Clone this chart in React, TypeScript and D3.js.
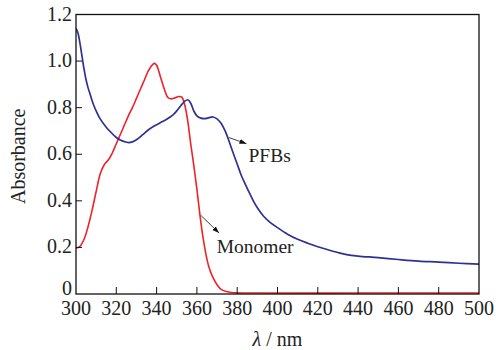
import React from "react";
import * as d3 from "d3";

const pfbWavelengths = [300, 301, 302, 303, 304, 305, 306, 307, 308, 309, 310, 312, 315, 317, 320, 322, 324, 326, 328, 330, 333, 336, 339, 342, 345, 348, 350, 352, 354, 355.5, 357, 358.5, 360, 362, 364, 366, 368, 370, 372, 374, 376, 378, 380, 382, 384, 386, 388, 390, 393, 396, 400, 405, 410, 415, 420, 425, 430, 435, 440, 450, 460, 470, 480, 490, 500];
const pfbValues = [1.14, 1.12, 1.075, 1.02, 0.965, 0.92, 0.885, 0.858, 0.83, 0.806, 0.786, 0.752, 0.716, 0.697, 0.672, 0.661, 0.654, 0.65, 0.653, 0.662, 0.683, 0.705, 0.722, 0.736, 0.75, 0.768, 0.786, 0.808, 0.828, 0.834, 0.818, 0.785, 0.765, 0.755, 0.753, 0.757, 0.76, 0.752, 0.733, 0.7, 0.655, 0.605, 0.558, 0.51, 0.472, 0.435, 0.4, 0.37, 0.335, 0.31, 0.285, 0.257, 0.235, 0.218, 0.203, 0.19, 0.178, 0.168, 0.163, 0.156, 0.148, 0.141, 0.137, 0.132, 0.128];

const monoWavelengths = [300, 302, 304, 306, 308, 310, 312, 314, 316, 318, 320, 322, 324, 326, 328, 330, 332, 334, 336, 338, 339, 340, 342, 344, 345.5, 347, 349, 351, 352.5, 354, 355.5, 357, 358.5, 360, 361.5, 363, 364.5, 366, 368, 370, 372, 375, 380, 390, 440, 500];
const monoValues = [0.196, 0.205, 0.235, 0.29, 0.36, 0.44, 0.515, 0.555, 0.575, 0.605, 0.645, 0.685, 0.725, 0.765, 0.8, 0.84, 0.88, 0.92, 0.96, 0.985, 0.99, 0.982, 0.93, 0.875, 0.845, 0.838, 0.842, 0.848, 0.845, 0.81, 0.74, 0.64, 0.55, 0.45, 0.34, 0.245, 0.17, 0.115, 0.07, 0.04, 0.02, 0.01, 0.005, 0.004, 0.004, 0.004];

const xTicks = [300, 320, 340, 360, 380, 400, 420, 440, 460, 480, 500];
const yTicks = [0, 0.2, 0.4, 0.6, 0.8, 1.0, 1.2];
const yTickLabels = ["0", "0.2", "0.4", "0.6", "0.8", "1.0", "1.2"];

// annotations: arrow start, arrow end, text position (wavelength, absorbance)
const pfbNote = { label: "PFBs", from: [375.8, 0.672], to: [384.6, 0.645], text: [385.6, 0.566] };
const monoNote = { label: "Monomer", from: [361.9, 0.338], to: [371, 0.262], text: [369.8, 0.175] };

const W = 496, H = 350;
const L = 76, R = 479, T = 14.5, B = 294;

export default function App() {
  const x = d3.scaleLinear().domain([300, 500]).range([L, R]);
  const y = d3.scaleLinear().domain([0, 1.2]).range([B, T]);
  const line = d3.line<[number, number]>().x(d => x(d[0])).y(d => y(d[1])).curve(d3.curveCatmullRom.alpha(0.5));
  const pfb = pfbWavelengths.map((w, i) => [w, pfbValues[i]] as [number, number]);
  const mono = monoWavelengths.map((w, i) => [w, monoValues[i]] as [number, number]);
  const font = '"Liberation Serif", "DejaVu Serif", serif';
  const notes = [pfbNote, monoNote];
  return (
    <svg width={W} height={H} style={{ position: "absolute", left: 0, top: 0, fontFamily: font }}>
      <defs>
        <marker id="arr" viewBox="0 0 10 10" refX="10" refY="5" markerWidth="7" markerHeight="7" orient="auto" markerUnits="userSpaceOnUse">
          <path d="M0,1.5 L10,5 L0,8.5 Z" fill="#111" />
        </marker>
        <clipPath id="clip"><rect x={L} y={T} width={R - L} height={B - T} /></clipPath>
      </defs>
      <rect width={W} height={H} fill="#fff" />
      <g clipPath="url(#clip)">
        <path d={line(mono) || ""} fill="none" stroke="#ee2229" strokeWidth={1.6} />
        <path d={line(pfb) || ""} fill="none" stroke="#2e3192" strokeWidth={1.7} />
      </g>
      <rect x={L} y={T} width={R - L} height={B - T} fill="none" stroke="#111" strokeWidth={1.3} />
      {xTicks.map(t => (
        <g key={"x" + t}>
          {t > 300 && t < 500 && <line x1={x(t)} x2={x(t)} y1={B} y2={B - 7} stroke="#111" strokeWidth={1} />}
          <text x={x(t)} y={B + 21} fontSize={20} textAnchor="middle" fill="#222" style={{ fontFamily: font }}>{t}</text>
        </g>
      ))}
      {yTicks.map((t, i) => (
        <g key={"y" + t}>
          {t > 0 && t < 1.2 && <line x1={L} x2={L + 6} y1={y(t)} y2={y(t)} stroke="#111" strokeWidth={1} />}
          <text x={L - 4} y={y(t) + (t === 0 ? 1 : 6)} fontSize={20} textAnchor="end" fill="#222" style={{ fontFamily: font }}>{yTickLabels[i]}</text>
        </g>
      ))}
      <text transform={`translate(25,${(T + B) / 2 + 2}) rotate(-90)`} fontSize={20} textAnchor="middle" fill="#222" style={{ fontFamily: font }}>Absorbance</text>
      <text x={(L + R) / 2} y={346} fontSize={20} textAnchor="middle" fill="#222" style={{ fontFamily: font }}>
        <tspan fontStyle="italic">λ</tspan> / nm
      </text>
      {notes.map(n => (
        <g key={n.label}>
          <line x1={x(n.from[0])} y1={y(n.from[1])} x2={x(n.to[0])} y2={y(n.to[1])} stroke="#111" strokeWidth={0.8} markerEnd="url(#arr)" />
          <text x={x(n.text[0])} y={y(n.text[1])} fontSize={19.5} fill="#222" style={{ fontFamily: font }}>{n.label}</text>
        </g>
      ))}
    </svg>
  );
}
